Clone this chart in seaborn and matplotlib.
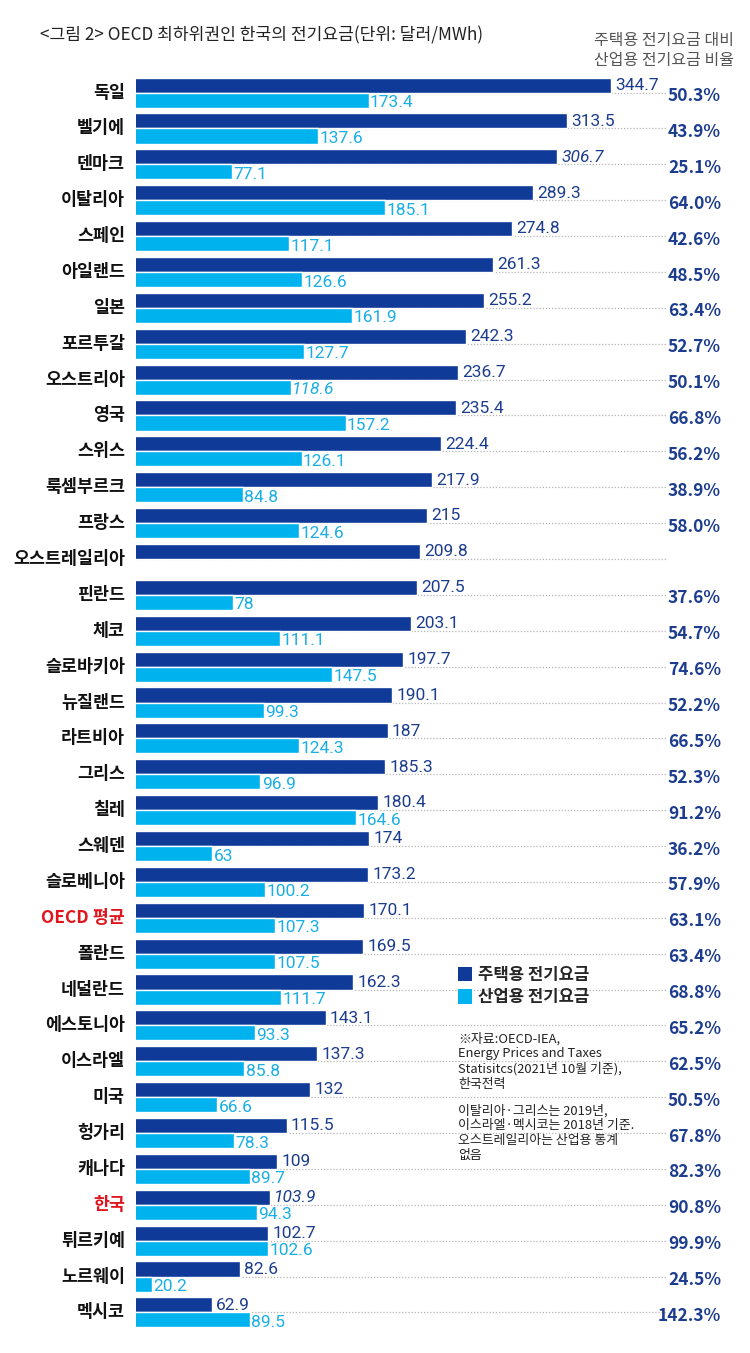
import matplotlib
matplotlib.use("Agg")
import matplotlib.pyplot as plt
import matplotlib.transforms as mtransforms
from matplotlib.patches import Patch
import seaborn as sns
import pandas as pd
import numpy as np

countries = ["독일", "벨기에", "덴마크", "이탈리아", "스페인", "아일랜드", "일본", "포르투갈",
             "오스트리아", "영국", "스위스", "룩셈부르크", "프랑스", "오스트레일리아", "핀란드", "체코",
             "슬로바키아", "뉴질랜드", "라트비아", "그리스", "칠레", "스웨덴", "슬로베니아", "OECD 평균",
             "폴란드", "네덜란드", "에스토니아", "이스라엘", "미국", "헝가리", "캐나다", "한국",
             "튀르키예", "노르웨이", "멕시코"]
residential = [344.7, 313.5, 306.7, 289.3, 274.8, 261.3, 255.2, 242.3,
               236.7, 235.4, 224.4, 217.9, 215, 209.8, 207.5, 203.1,
               197.7, 190.1, 187, 185.3, 180.4, 174, 173.2, 170.1,
               169.5, 162.3, 143.1, 137.3, 132, 115.5, 109, 103.9,
               102.7, 82.6, 62.9]
industrial = [173.4, 137.6, 77.1, 185.1, 117.1, 126.6, 161.9, 127.7,
              118.6, 157.2, 126.1, 84.8, 124.6, np.nan, 78, 111.1,
              147.5, 99.3, 124.3, 96.9, 164.6, 63, 100.2, 107.3,
              107.5, 111.7, 93.3, 85.8, 66.6, 78.3, 89.7, 94.3,
              102.6, 20.2, 89.5]
ratio_labels = ["50.3%", "43.9%", "25.1%", "64.0%", "42.6%", "48.5%", "63.4%", "52.7%",
                "50.1%", "66.8%", "56.2%", "38.9%", "58.0%", "", "37.6%", "54.7%",
                "74.6%", "52.2%", "66.5%", "52.3%", "91.2%", "36.2%", "57.9%", "63.1%",
                "63.4%", "68.8%", "65.2%", "62.5%", "50.5%", "67.8%", "82.3%", "90.8%",
                "99.9%", "24.5%", "142.3%"]
res_labels = ["344.7", "313.5", "306.7", "289.3", "274.8", "261.3", "255.2", "242.3",
              "236.7", "235.4", "224.4", "217.9", "215", "209.8", "207.5", "203.1",
              "197.7", "190.1", "187", "185.3", "180.4", "174", "173.2", "170.1",
              "169.5", "162.3", "143.1", "137.3", "132", "115.5", "109", "103.9",
              "102.7", "82.6", "62.9"]
ind_labels = ["173.4", "137.6", "77.1", "185.1", "117.1", "126.6", "161.9", "127.7",
              "118.6", "157.2", "126.1", "84.8", "124.6", "", "78", "111.1",
              "147.5", "99.3", "124.3", "96.9", "164.6", "63", "100.2", "107.3",
              "107.5", "111.7", "93.3", "85.8", "66.6", "78.3", "89.7", "94.3",
              "102.6", "20.2", "89.5"]
series_names = ["주택용 전기요금", "산업용 전기요금"]
highlight = ["OECD 평균", "한국"]
italic_res = ["306.7", "103.9"]
italic_ind = ["118.6"]
italic_ratio = ["48.5%", "36.2%", "142.3%"]

DARK = "#0f3a98"
LIGHT = "#00b3ef"
NAVY_TXT = "#1c3c8e"
LIGHT_TXT = "#19aee6"

df = pd.concat([
    pd.DataFrame({"country": countries, "value": residential, "type": series_names[0]}),
    pd.DataFrame({"country": countries, "value": industrial, "type": series_names[1]}),
], ignore_index=True)

sns.set_theme(style="white")
plt.rcParams["font.family"] = ["Noto Sans CJK KR", "DejaVu Sans"]

W, H = 750, 1353
fig = plt.figure(figsize=(W / 100, H / 100), dpi=100)
ax_left, ax_right = 136, 745
ax_top, ax_bot = 70, 1335
ax = fig.add_axes([ax_left / W, 1 - ax_bot / H, (ax_right - ax_left) / W, (ax_bot - ax_top) / H])

sns.barplot(data=df, y="country", x="value", hue="type", order=countries,
            hue_order=series_names, palette=[DARK, LIGHT], orient="h",
            width=0.84, gap=0, saturation=1, ax=ax, legend=False, zorder=3)

# px scale: zero at x=123 px, 1.416 px per unit
x0 = (ax_left - 123) / 1.416
x1 = (ax_right - 123) / 1.416
ax.set_xlim(x0, x1)
n = len(countries)
ax.set_ylim(n - 1 + (ax_bot - 1313) / 34.9, -(92 - ax_top) / 34.9)
for s in ax.spines.values():
    s.set_visible(False)
ax.set_xticks([])
ax.set_yticks([])
ax.set_xlabel("")
ax.set_ylabel("")

numfont = ["Roboto", "DejaVu Sans"]
x_dot_end = (666 - 123) / 1.416
blend = mtransforms.blended_transform_factory(fig.transFigure, ax.transData)
for i, c in enumerate(countries):
    ax.plot([x0, x_dot_end], [i, i], color="#b5b5b5", lw=0.9, ls=(0, (1, 1.5)), zorder=1)
    r = residential[i]
    ax.text(r + 3, i - 0.2, res_labels[i], color=NAVY_TXT, fontsize=12.5, family=numfont,
            va="center", ha="left", style="italic" if res_labels[i] in italic_res else "normal", zorder=5)
    v = industrial[i]
    if not np.isnan(v):
        ax.text(v + 1, i + 0.28, ind_labels[i], color=LIGHT_TXT, fontsize=12.5, family=numfont,
                va="center", ha="left", style="italic" if ind_labels[i] in italic_ind else "normal", zorder=5)
    ax.text(125 / W, i, c, transform=blend, ha="right", va="center", fontsize=12.5,
            fontweight="bold", color="#e0161e" if c in highlight else "#111111")
    if ratio_labels[i]:
        ax.text(721 / W, i + 0.1, ratio_labels[i], transform=blend, ha="right", va="center",
                fontsize=12.5, fontweight="bold", color=NAVY_TXT,
                style="italic" if ratio_labels[i] in italic_ratio else "normal")

fig.text(40 / W, 1 - 35 / H, "<그림 2> OECD 최하위권인 한국의 전기요금(단위: 달러/MWh)",
         ha="left", va="center", fontsize=12.3, color="#222222")
fig.text(734 / W, 1 - 40 / H, "주택용 전기요금 대비", ha="right", va="center", fontsize=11.5, color="#555555")
fig.text(734 / W, 1 - 60 / H, "산업용 전기요금 비율", ha="right", va="center", fontsize=11.5, color="#555555")

handles = [Patch(facecolor=DARK, edgecolor="none"), Patch(facecolor=LIGHT, edgecolor="none")]
fig.legend(handles, series_names, loc="upper left", bbox_to_anchor=(458 / W, 1 - 966 / H),
           frameon=False, handlelength=0.85, handleheight=0.95, handletextpad=0.35,
           labelspacing=0.26, borderpad=0, borderaxespad=0,
           prop={"weight": "bold", "size": 12})

fig.text(458 / W, 1 - 1032 / H, "※자료:OECD-IEA,\nEnergy Prices and Taxes\nStatisitcs(2021년 10월 기준),\n한국전력",
         ha="left", va="top", fontsize=9.3, color="#222222", linespacing=1.2)
fig.text(458 / W, 1 - 1104 / H, "이탈리아·그리스는 2019년,\n이스라엘·멕시코는 2018년 기준.\n오스트레일리아는 산업용 통계\n없음",
         ha="left", va="top", fontsize=9.3, color="#222222", linespacing=1.2)

fig.savefig("out.png", dpi=100, facecolor="white")
